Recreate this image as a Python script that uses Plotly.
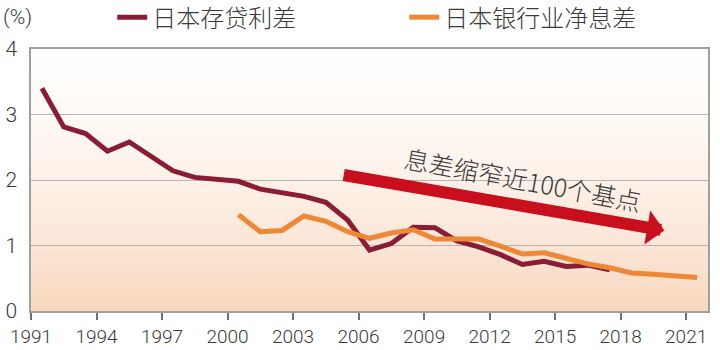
import base64
import plotly.graph_objects as go

# Japan: loan-deposit spread and bank net interest margin (%)
spread_years = list(range(1991, 2018))
spread_values = [3.40, 2.81, 2.71, 2.44, 2.58, 2.35, 2.14, 2.04, 2.01, 1.98,
                 1.86, 1.80, 1.75, 1.66, 1.39, 0.93, 1.03, 1.28, 1.27, 1.07,
                 0.98, 0.86, 0.71, 0.76, 0.68, 0.70, 0.63]

nim_years = list(range(2000, 2022))
nim_values = [1.47, 1.21, 1.23, 1.45, 1.37, 1.21, 1.11, 1.19, 1.24, 1.10,
              1.10, 1.10, 0.99, 0.87, 0.89, 0.80, 0.72, 0.66, 0.58, 0.56,
              0.53, 0.51]

tick_years = list(range(1991, 2022, 3))
tick_labels = [str(y) for y in tick_years]

series_names = ["日本存贷利差", "日本银行业净息差"]
arrow_label = "息差缩窄近100个基点"

NUM_FONT = "Roboto"
CJK_FONT = "Noto Sans CJK SC Light, Noto Sans CJK SC DemiLight, Noto Sans CJK SC"
TEXT_COLOR = "#3a3a3a"
GRID_COLOR = "#b5b5b5"

# annual observations are plotted at mid-year
def mid_year(years):
    return [y + 0.5 for y in years]

# soft peach-to-white vertical gradient behind the plot area
svg = (
    '<svg xmlns="http://www.w3.org/2000/svg" width="100" height="100" preserveAspectRatio="none">'
    '<defs><linearGradient id="g" x1="0" y1="1" x2="0" y2="0">'
    '<stop offset="0" stop-color="#f8d8bf"/>'
    '<stop offset="0.3" stop-color="#fbe8da"/>'
    '<stop offset="0.55" stop-color="#fdf3eb"/>'
    '<stop offset="0.8" stop-color="#fffbf8"/>'
    '<stop offset="1" stop-color="#ffffff"/>'
    '</linearGradient></defs>'
    '<rect width="100" height="100" fill="url(#g)"/></svg>'
)
bg_src = "data:image/svg+xml;base64," + base64.b64encode(svg.encode()).decode()

fig = go.Figure()

fig.add_trace(go.Scatter(
    x=mid_year(spread_years), y=spread_values, mode="lines",
    name=series_names[0],
    line=dict(color="#8a1c35", width=5),
    hoverinfo="x+y",
))
fig.add_trace(go.Scatter(
    x=mid_year(nim_years), y=nim_values, mode="lines",
    name=series_names[1],
    line=dict(color="#ee8837", width=5),
    hoverinfo="x+y",
))

# trend arrow and its caption
fig.add_annotation(
    x=2020.0, y=1.23, ax=2005.25, ay=2.08,
    xref="x", yref="y", axref="x", ayref="y",
    showarrow=True, arrowhead=1, arrowsize=0.48, arrowwidth=12,
    arrowcolor="#c90f1d", text="",
)
fig.add_annotation(
    x=2013.55, y=2.02, xref="x", yref="y",
    text=arrow_label, showarrow=False, textangle=10.5,
    font=dict(family=CJK_FONT, size=25, color=TEXT_COLOR, weight=300),
)
fig.add_annotation(
    x=-30 / 677, y=1.0, xref="paper", yref="paper",
    xanchor="left", yanchor="bottom", yshift=18,
    text="(%)", showarrow=False,
    font=dict(family=NUM_FONT, size=21, color=TEXT_COLOR, weight=300),
)

fig.add_layout_image(
    source=bg_src, xref="x", yref="y", x=1991, y=4,
    sizex=31, sizey=4, sizing="stretch", layer="below",
)

fig.update_layout(
    width=720, height=350,
    margin=dict(l=31, r=12, t=49, b=39, autoexpand=False),
    paper_bgcolor="white", plot_bgcolor="white",
    showlegend=True,
    legend=dict(
        orientation="h", x=0.12, y=1.12, xanchor="left", yanchor="middle",
        font=dict(family=CJK_FONT, size=24, color=TEXT_COLOR, weight=300),
        bgcolor="rgba(0,0,0,0)", itemwidth=30, entrywidth=247,
    ),
    xaxis=dict(
        range=[1991, 2022], tickvals=tick_years, ticktext=tick_labels,
        showgrid=False, showline=True, linecolor="#a0a0a0", linewidth=1.5,
        mirror=True, ticks="outside", ticklen=7, tickwidth=1.5,
        tickcolor="#707070", ticklabelstandoff=0, automargin=False,
        tickfont=dict(family=NUM_FONT, size=19, color=TEXT_COLOR, weight=300),
        zeroline=False,
    ),
    yaxis=dict(
        range=[0, 4], tickvals=[0, 1, 2, 3, 4],
        showgrid=True, gridcolor=GRID_COLOR, gridwidth=1.2,
        showline=True, linecolor="#a0a0a0", linewidth=1.5, mirror=True,
        ticks="", ticklabelstandoff=8, automargin=False,
        tickfont=dict(family=NUM_FONT, size=21, color=TEXT_COLOR, weight=300),
        zeroline=False,
    ),
)

fig.write_html("out.html")
